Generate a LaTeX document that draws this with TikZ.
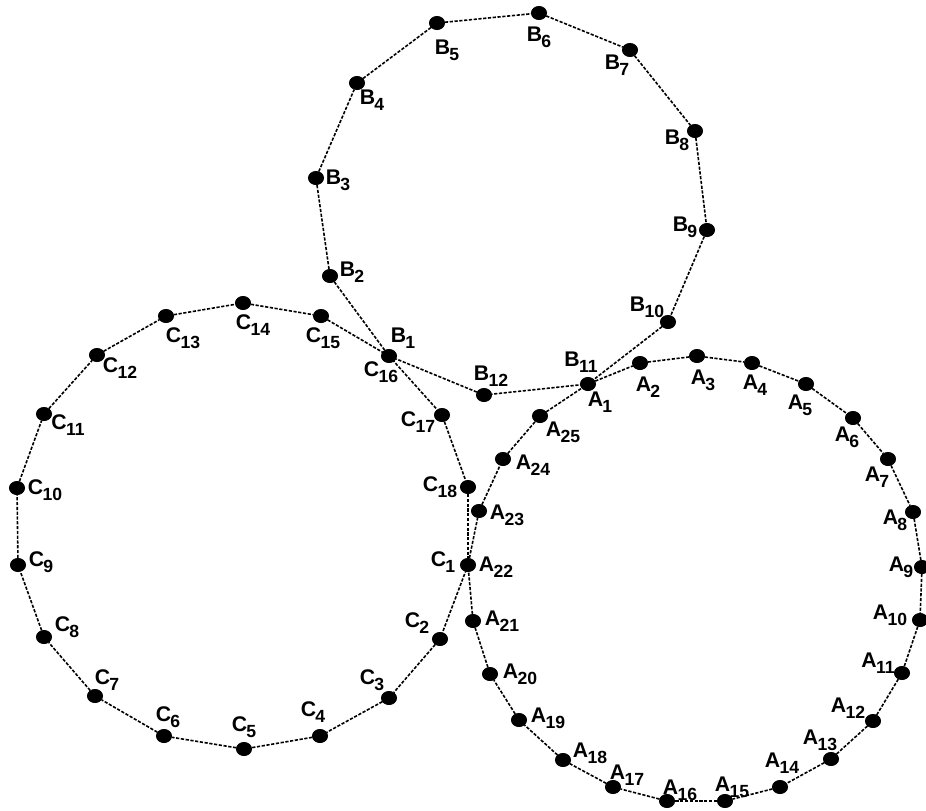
\documentclass[tikz,border=0pt]{standalone}
\usepackage{fontspec}
\setmainfont{Liberation Sans}
\usetikzlibrary{shapes.geometric}

\newcommand\ptname[2]{#1\kern-0.3pt\raisebox{-2.8pt}{\fontsize{8.8}{9}\selectfont #2}}

\begin{document}
\begin{tikzpicture}[
    x=0.5pt, y=-0.5pt,
    dot/.style={draw, ellipse, fill=black, inner sep=0pt, minimum width=7.6pt, minimum height=6.6pt},
    lab/.style={inner sep=0pt, font=\fontsize{10.6}{12}\selectfont\bfseries},
    link/.style={line width=0.8pt, dash pattern=on 1.6pt off 0.8pt},
  ]
    \useasboundingbox (0,0) rectangle (926,810);

    % ring A, ring B, ring C (shared points only once)
    \foreach \L/\k/\x/\y/\dx/\dy in {
        A/1/588/384/12/18, A/2/640/363/8/24, A/3/697/356/6/24, A/4/752/363/3/22,
        A/5/806/384/-6/21, A/6/853/418/-6/19, A/7/888/459/-11/18, A/8/913/512/-18/8,
        A/9/922/567/-21/0, A/10/920/620/-30/-5, A/11/902/673/-24/-10, A/12/873/721/-25/-13,
        A/13/831/759/-11/-19, A/14/780/787/2/-24, A/15/725/801/7/-14, A/16/667/801/13/-11,
        A/17/613/787/14/-12, A/18/563/760/27/-7, A/19/519/720/29/-2, A/20/490/674/30/0,
        A/21/473/621/29/0, A/22/468/565/28/2, A/23/479/511/28/4, A/24/503/459/30/6,
        A/25/540/416/23/16,
        B/1/389/356/14/-18, B/2/330/276/22/-4, B/3/316/178/22/2, B/4/357/83/15/17,
        B/5/437/23/10/27, B/6/539/13/0/24, B/7/630/50/-13/15, B/8/695/131/-18/9,
        B/9/707/230/-22/-3, B/10/668/322/-21/-15, B/12/484/395/7/-19,
        C/2/440/639/-23/-16, C/3/389/698/-17/-18, C/4/320/736/-7/-24, C/5/244/749/0/-22,
        C/6/164/736/4/-19, C/7/95/696/12/-16, C/8/44/637/23/-10, C/9/18/565/23/-3,
        C/10/17/488/28/2, C/11/44/414/24/11, C/12/97/355/23/13, C/13/166/316/17/22,
        C/14/243/303/10/22, C/15/321/316/2/22, C/17/442/415/-24/7, C/18/468/487/-28/0
      }{
      \node[dot] (\L\k) at (\x,\y) {};
      \node[lab] (\L\k-l) at ([shift={(\dx,\dy)}]\L\k) {\ptname{\L}{\k}};
    }

    \coordinate (B11) at (A1);
    \coordinate (C1) at (A22);
    \coordinate (C16) at (B1);
    \node[lab] (B11-l) at ([shift={(-7,-22)}]A1) {\ptname{B}{11}};
    \node[lab] (C1-l) at ([shift={(-25,-3)}]A22) {\ptname{C}{1}};
    \node[lab] (C16-l) at ([shift={(-8,16)}]B1) {\ptname{C}{16}};

    \foreach \i [remember=\i as \j (initially 1)] in {2,...,25}
      \draw[link] (A\j) -- (A\i);
    \draw[link] (A25) -- (A1);
    \foreach \i [remember=\i as \j (initially 1)] in {2,...,12}
      \draw[link] (B\j) -- (B\i);
    \draw[link] (B12) -- (B1);
    \foreach \i [remember=\i as \j (initially 1)] in {2,...,18}
      \draw[link] (C\j) -- (C\i);
    \draw[link] (C18) -- (C1);
  \end{tikzpicture}
\end{document}
